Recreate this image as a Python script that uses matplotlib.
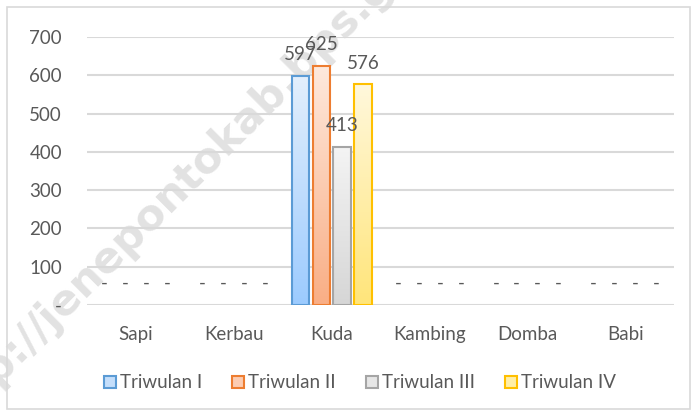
import numpy as np
import matplotlib.pyplot as plt
from matplotlib.patches import Rectangle
import matplotlib.colors as mcolors

categories = ["Sapi", "Kerbau", "Kuda", "Kambing", "Domba", "Babi"]
series = ["Triwulan I", "Triwulan II", "Triwulan III", "Triwulan IV"]
tw1 = [0, 0, 597, 0, 0, 0]
tw2 = [0, 0, 625, 0, 0, 0]
tw3 = [0, 0, 413, 0, 0, 0]
tw4 = [0, 0, 576, 0, 0, 0]
values = [tw1, tw2, tw3, tw4]
yticks = [0, 100, 200, 300, 400, 500, 600, 700]

edges = ["#5B9BD5", "#ED7D31", "#A5A5A5", "#FFC000"]
tops = ["#E3EFFC", "#FEE9DD", "#F4F4F4", "#FFF8DC"]
bottoms = ["#9CCBFF", "#F9AE85", "#D6D6D6", "#FFE57A"]
legfill = ["#C4DEFB", "#FCCCB2", "#E6E6E6", "#FFEFA8"]

plt.rcParams['font.family'] = ['Lato', 'DejaVu Sans']
txt = "#595959"
fs = 13.5

fig = plt.figure(figsize=(6.97, 4.16), dpi=100)
# chart border
fig.patches.append(Rectangle((7/697, 7/416), 683/697, 402/416, transform=fig.transFigure,
                             fill=False, edgecolor="#D9D9D9", lw=1.2))

ax = fig.add_axes([87/697, 1-305/416, 587/697, 268/416])
ax.patch.set_alpha(0)

# watermark, behind the bars
ax.text(194/697, 1-170/416, "http://jenepontokab.bps.go.id", rotation=45,
        rotation_mode='anchor', ha='center', va='center', fontsize=31,
        fontweight='bold', family='DejaVu Sans', color="#E2E2E2",
        transform=fig.transFigure, clip_on=False, zorder=1)

x = np.arange(len(categories))
w = 0.175
step = 0.214

grad = np.linspace(0, 1, 256).reshape(-1, 1)
for i, vals in enumerate(values):
    off = (i - 1.5) * step
    cmap = mcolors.LinearSegmentedColormap.from_list("g%d" % i, [bottoms[i], tops[i]])
    lws = [1.5 if v > 0 else 0 for v in vals]
    bars = ax.bar(x + off, vals, w, facecolor="none", edgecolor=edges[i], lw=lws, zorder=3)
    for b, v in zip(bars, vals):
        if v > 0:
            im = ax.imshow(grad, cmap=cmap, aspect='auto', origin='lower',
                           extent=[b.get_x(), b.get_x() + w, 0, v], zorder=2)
            im.set_clip_path(b)
        lab = "-" if v == 0 else str(v)
        ax.annotate(lab, (b.get_x() + w / 2, v), xytext=(0, 11.5), textcoords='offset points',
                    ha='center', va='baseline', fontsize=fs, color=txt, zorder=4)

ax.set_xlim(-0.5, len(categories) - 0.5)
ax.set_ylim(0, 700)
ax.set_yticks(yticks)
ax.set_yticklabels(["-" if t == 0 else str(t) for t in yticks])
ax.set_xticks(x)
ax.set_xticklabels(categories)
ax.tick_params(length=0, labelsize=fs, labelcolor=txt)
ax.tick_params(axis='y', pad=18)
ax.tick_params(axis='x', pad=15)
ax.grid(axis='y', color="#D9D9D9", lw=1.5, zorder=0)
for s in ax.spines.values():
    s.set_visible(False)

handles = [Rectangle((0, 0), 1, 1, facecolor=legfill[i], edgecolor=edges[i], lw=1.5) for i in range(4)]
fig.legend(handles, series, loc='center', bbox_to_anchor=(360/697, 1-383/416), ncol=4,
           frameon=False, fontsize=fs, labelcolor=txt, handlelength=0.64, handleheight=0.64,
           handletextpad=0.22, columnspacing=1.6)

fig.savefig("out.png", dpi=100)
